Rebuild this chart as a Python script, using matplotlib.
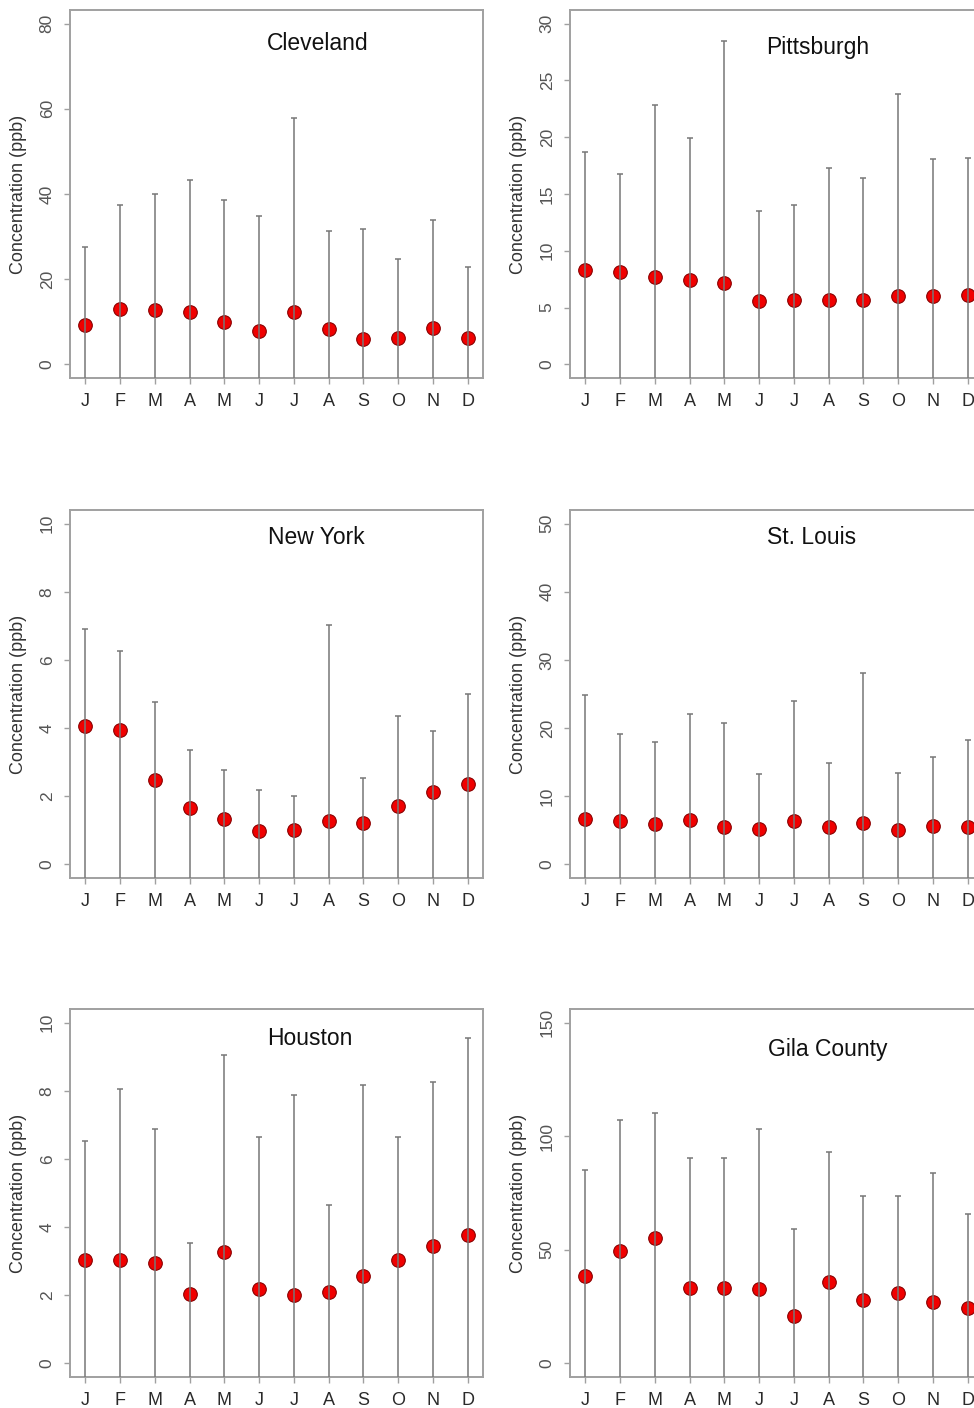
import matplotlib
matplotlib.use("Agg")
import matplotlib.pyplot as plt
import numpy as np

plt.rcParams["font.family"] = ["Liberation Sans", "DejaVu Sans"]

# ── Data ────────────────────────────────────────────────────────────
months = ["J", "F", "M", "A", "M", "J", "J", "A", "S", "O", "N", "D"]
cities = ["Cleveland", "Pittsburgh", "New York", "St. Louis", "Houston", "Gila County"]

cleveland_mean = [9.2, 13.1, 12.7, 12.4, 9.9, 7.8, 12.3, 8.4, 6.0, 6.3, 8.6, 6.3]
cleveland_upper = [27.5, 37.4, 40.1, 43.4, 38.6, 34.8, 57.8, 31.3, 31.7, 24.8, 33.8, 22.8]

pittsburgh_mean = [8.3, 8.1, 7.7, 7.4, 7.2, 5.6, 5.7, 5.7, 5.7, 6.0, 6.0, 6.1]
pittsburgh_upper = [18.7, 16.8, 22.8, 19.9, 28.5, 13.5, 14.0, 17.3, 16.4, 23.8, 18.1, 18.2]

newyork_mean = [4.06, 3.93, 2.49, 1.64, 1.34, 0.97, 1.01, 1.27, 1.20, 1.72, 2.11, 2.35]
newyork_upper = [6.90, 6.25, 4.77, 3.35, 2.78, 2.17, 2.02, 7.02, 2.53, 4.35, 3.90, 5.00]

stlouis_mean = [6.7, 6.3, 5.9, 6.5, 5.5, 5.2, 6.3, 5.5, 6.1, 5.0, 5.6, 5.5]
stlouis_upper = [24.9, 19.2, 18.0, 22.0, 20.8, 13.3, 24.0, 14.9, 28.1, 13.4, 15.8, 18.2]

houston_mean = [3.04, 3.02, 2.95, 2.04, 3.27, 2.17, 2.01, 2.10, 2.57, 3.04, 3.43, 3.77]
houston_upper = [6.54, 8.04, 6.89, 3.52, 9.04, 6.64, 7.87, 4.66, 8.16, 6.64, 8.27, 9.54]

gila_mean = [38.5, 49.5, 55.1, 33.1, 33.1, 32.7, 20.9, 35.7, 28.0, 30.8, 26.8, 24.2]
gila_upper = [85.1, 107.1, 110.3, 90.5, 90.5, 103.0, 59.2, 92.9, 73.8, 73.5, 83.6, 65.6]

means = [cleveland_mean, pittsburgh_mean, newyork_mean, stlouis_mean, houston_mean, gila_mean]
uppers = [cleveland_upper, pittsburgh_upper, newyork_upper, stlouis_upper, houston_upper, gila_upper]

# y-axis range per panel (R style: extended 4 % beyond)
y_max = [80, 30, 10, 50, 10, 150]
y_step = [20, 5, 2, 10, 2, 50]

# title placement (axes fraction)
title_pos = [(0.60, 0.91), (0.60, 0.897), (0.596, 0.924),
             (0.586, 0.924), (0.58, 0.921), (0.625, 0.889)]

# ── Layout ──────────────────────────────────────────────────────────
W, H = 974, 1408
fig = plt.figure(figsize=(W / 100, H / 100), dpi=100)

col_left = [70, 570]
row_top = [10, 510, 1009]
ax_w, ax_h = 413, 368

frame_col = "#a0a0a0"
line_col = "#777777"

x = np.arange(1, 13)

for i, city in enumerate(cities):
    r, c = divmod(i, 2)
    left = col_left[c] / W
    bottom = 1 - (row_top[r] + ax_h) / H
    ax = fig.add_axes([left, bottom, ax_w / W, ax_h / H])

    m = np.array(means[i])
    u = np.array(uppers[i])
    ymax = y_max[i]
    ylo, yhi = -0.04 * ymax, 1.04 * ymax

    ax.plot(x, m, "o", ms=9.8, mfc="#f00000", mec="#8a0000", mew=0.8, zorder=2)
    ax.vlines(x, ylo - ymax, u, color=line_col, lw=1.1, zorder=3)
    ax.plot(x, u, "_", ms=4, color=line_col, mew=1.1, zorder=3)

    ax.set_xlim(0.56, 12.44)
    ax.set_ylim(ylo, yhi)
    ax.set_xticks(x)
    ax.set_xticklabels(months)
    ax.set_yticks(np.arange(0, ymax + 0.1, y_step[i]))
    ax.set_yticklabels([f"{v:g}" for v in np.arange(0, ymax + 0.1, y_step[i])],
                       rotation=90, va="center")

    for s in ax.spines.values():
        s.set_color(frame_col)
        s.set_linewidth(1.4)
    ax.tick_params(axis="both", direction="out", length=4, width=1.0, color=frame_col)
    ax.tick_params(axis="y", labelsize=12.5, labelcolor="#555555", pad=7)
    ax.tick_params(axis="x", labelsize=13, labelcolor="#2a2a2a", pad=7)

    ax.set_ylabel("Concentration (ppb)", fontsize=13, color="#333333")
    ax.yaxis.set_label_coords(-43 / ax_w, 0.5)

    tx, ty = title_pos[i]
    ax.text(tx, ty, city, transform=ax.transAxes, ha="center", va="center",
            fontsize=16.5, color="#111111")

fig.savefig("out.png", dpi=100)
